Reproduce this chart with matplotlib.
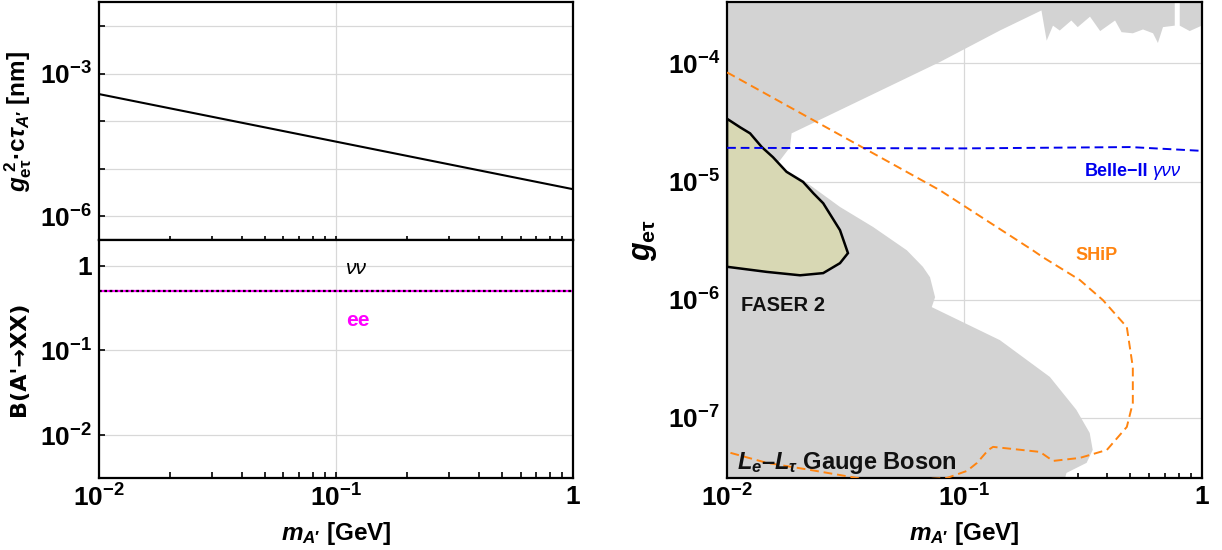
import matplotlib
matplotlib.use('Agg')
import matplotlib.pyplot as plt
import numpy as np

plt.rcParams['font.family'] = ['Liberation Sans', 'DejaVu Sans']
plt.rcParams['font.weight'] = 'bold'
plt.rcParams['axes.labelweight'] = 'bold'
plt.rcParams['mathtext.fontset'] = 'custom'
plt.rcParams['mathtext.rm'] = 'Liberation Sans:bold'
plt.rcParams['mathtext.it'] = 'Liberation Sans:italic:bold'
plt.rcParams['mathtext.bf'] = 'Liberation Sans:bold'
plt.rcParams['mathtext.default'] = 'regular'

# ---- data ----
# left top: lifetime
m_line = [0.01, 1.0]
ctau = [3.7e-4, 3.7e-6]
# left bottom: branching ratios
br_nunu = [0.5, 0.5]
br_ee = [0.5, 0.5]

# right: excluded region (gray), top part
gray_m = [0.01, 0.769, 0.769, 0.686, 0.653, 0.623, 0.565, 0.512, 0.459, 0.431, 0.373,
          0.338, 0.300, 0.282, 0.252, 0.236, 0.222, 0.211, 0.141, 0.0789, 0.0187,
          0.0184, 0.0167, 0.0161, 0.0209, 0.0299, 0.0412, 0.0572, 0.0668, 0.0716,
          0.0752, 0.0728, 0.141, 0.229, 0.296, 0.337, 0.347, 0.327, 0.269, 0.229, 0.01]
gray_g = [4e-4, 4e-4, 2.09e-4, 2.03e-4, 1.49e-4, 1.80e-4, 1.94e-4, 1.80e-4, 1.84e-4,
          2.31e-4, 1.88e-4, 2.49e-4, 2.03e-4, 2.31e-4, 1.90e-4, 2.09e-4, 1.56e-4,
          2.81e-4, 1.90e-4, 1.03e-4, 2.56e-5, 1.95e-5, 1.51e-5, 1.40e-5, 1.03e-5,
          6.1e-6, 4.13e-6, 2.62e-6, 1.90e-6, 1.55e-6, 1.05e-6, 8.66e-7, 4.55e-7,
          2.22e-7, 1.17e-7, 7.45e-8, 5.35e-8, 4.16e-8, 3.42e-8, 1e-8, 1e-8]
gray2_m = [0.807, 0.807, 0.889, 1.0, 1.0]
gray2_g = [4e-4, 2.09e-4, 1.88e-4, 2.09e-4, 4e-4]

# FASER 2 sensitivity
faser_m = [0.01, 0.01135, 0.0125, 0.0140, 0.0156, 0.0178, 0.0209, 0.0231, 0.0254,
           0.0299, 0.0323, 0.0299, 0.0254, 0.0203, 0.0147, 0.01]
faser_g = [3.4e-5, 2.88e-5, 2.56e-5, 1.96e-5, 1.61e-5, 1.21e-5, 9.93e-6, 7.96e-6,
           6.56e-6, 3.88e-6, 2.48e-6, 2.04e-6, 1.68e-6, 1.61e-6, 1.72e-6, 1.90e-6]

# SHiP
ship_m = [0.01, 0.0789, 0.194, 0.214, 0.306, 0.383, 0.483, 0.512, 0.512, 0.483, 0.398,
          0.306, 0.236, 0.208, 0.132, 0.126, 0.113, 0.1026, 0.0844, 0.044, 0.0223,
          0.0147, 0.01]
ship_g = [8.4e-5, 8.43e-6, 2.62e-6, 2.29e-6, 1.47e-6, 9.93e-7, 5.87e-7, 2.69e-7,
          1.34e-7, 8.38e-8, 5.35e-8, 4.58e-8, 4.32e-8, 5.15e-8, 5.68e-8, 5.35e-8,
          4.16e-8, 3.56e-8, 3.10e-8, 2.87e-8, 3.63e-8, 4.16e-8, 5.15e-8]

# Belle-II
belle_m = [0.01, 0.1, 0.5, 1.0]
belle_g = [1.93e-5, 1.91e-5, 1.96e-5, 1.82e-5]

fig = plt.figure(figsize=(12.22, 5.5), dpi=100)
ax1 = fig.add_axes([0.081, 0.5636, 0.388, 0.4324])
ax2 = fig.add_axes([0.081, 0.131, 0.388, 0.4326])
ax3 = fig.add_axes([0.595, 0.131, 0.3885, 0.865])

grid_c = '#d8d8d8'
for ax in (ax1, ax2, ax3):
    ax.set_xscale('log')
    ax.set_yscale('log')
    ax.set_xlim(0.01, 1)
    for s in ax.spines.values():
        s.set_linewidth(1.6)
    ax.tick_params(which='both', direction='in', labelsize=19, top=False, right=False,
                   width=1.2, pad=5)
    ax.set_axisbelow(True)

# top left
ax1.plot(m_line, ctau, color='black', lw=1.5)
ax1.set_ylim(10**-6.5, 10**-1.5)
dec = [1e-6, 1e-5, 1e-4, 1e-3, 1e-2]
ax1.set_yticks(dec)
ax1.set_yticklabels([r'$10^{-6}$', '', '', r'$10^{-3}$', ''])
ax1.yaxis.set_minor_locator(matplotlib.ticker.NullLocator())
ax1.set_xticks([0.1])
ax1.tick_params(axis='x', which='both', labelbottom=False, length=3)
ax1.tick_params(axis='y', length=4)
ax1.grid(True, which='major', color=grid_c, lw=0.9)
ax1.set_ylabel(r'$\mathit{g}_{e\tau}^{\ 2}$·c$\mathit{\tau}_{\mathit{A}\prime}$ [nm]',
               fontsize=17.5, labelpad=4)

# bottom left
ax2.plot(m_line, br_ee, color='magenta', lw=1.6)
ax2.plot(m_line, br_nunu, color='black', lw=1.6, ls=(0, (1.2, 1.2)))
ax2.set_ylim(10**-2.506, 2.0)
ax2.set_yticks([1e-2, 1e-1, 1])
ax2.set_yticklabels([r'$10^{-2}$', r'$10^{-1}$', '1'])
ax2.yaxis.set_minor_locator(matplotlib.ticker.NullLocator())
ax2.set_xticks([0.01, 0.1, 1])
ax2.set_xticklabels([r'$10^{-2}$', r'$10^{-1}$', '1'])
ax2.tick_params(which='both', length=4)
ax2.grid(True, which='major', color=grid_c, lw=0.9)
ax2.set_ylabel("B(A'→XX)", fontsize=16, labelpad=8, family=['DejaVu Sans'])
ax2.set_xlabel(r"$\mathit{m}_{\mathit{A}\prime}$ [GeV]", fontsize=17.5, labelpad=6)
ax2.text(0.110, 0.92, 'νν', fontsize=15, style='italic', fontweight='normal',
         color='black', ha='left', va='center')
ax2.text(0.110, 0.225, 'ee', fontsize=15, color='magenta', ha='left', va='center')

# right panel
ax3.set_ylim(3.1e-8, 3.3e-4)
ax3.fill(gray_m, gray_g, color='#d3d3d3', lw=0, zorder=1)
ax3.fill(gray2_m, gray2_g, color='#d3d3d3', lw=0, zorder=1)
ax3.fill(faser_m, faser_g, facecolor='#d8d8b4', edgecolor='black', lw=1.8, zorder=3)
ax3.plot(ship_m, ship_g, color='#ff8410', lw=1.4, ls=(0, (4.5, 2.5)), zorder=4)
ax3.plot(belle_m, belle_g, color='#0000ee', lw=1.4, ls=(0, (4.5, 2.5)), zorder=4)
ax3.set_yticks([1e-7, 1e-6, 1e-5, 1e-4])
ax3.set_yticklabels([r'$10^{-7}$', r'$10^{-6}$', r'$10^{-5}$', r'$10^{-4}$'])
ax3.yaxis.set_minor_locator(matplotlib.ticker.LogLocator(base=10, subs=np.arange(2, 10), numticks=20))
ax3.yaxis.set_minor_formatter(matplotlib.ticker.NullFormatter())
ax3.set_xticks([0.01, 0.1, 1])
ax3.set_xticklabels([r'$10^{-2}$', r'$10^{-1}$', '1'])
ax3.tick_params(which='major', length=6)
ax3.tick_params(which='minor', length=3.5)
ax3.grid(True, which='major', color=grid_c, lw=0.9, zorder=2)
ax3.set_ylabel(r'$\mathit{g}_{e\tau}$', fontsize=22, labelpad=6)
ax3.set_xlabel(r"$\mathit{m}_{\mathit{A}\prime}$ [GeV]", fontsize=17.5, labelpad=6)

ax3.text(0.593, 1.22e-5, 'Belle−II', fontsize=13, color='#0000ee', ha='right', va='center',
         zorder=5)
ax3.text(0.622, 1.22e-5, 'γνν', fontsize=13.5, color='#0000ee', ha='left', va='center',
         style='italic', fontweight='normal', zorder=5)
ax3.text(0.361, 2.38e-6, 'SHiP', fontsize=13, color='#ff8410', ha='center', va='center', zorder=5)
ax3.text(0.01146, 9.0e-7, 'FASER 2', fontsize=14.5, color='#111111', ha='left', va='center', zorder=5)
ax3.text(0.0110, 4.16e-8, r'$\mathit{L}_{\mathit{e}}$–$\mathit{L}_{\mathit{\tau}}$ Gauge Boson',
         fontsize=17, color='#111111', ha='left', va='center', zorder=5)

fig.savefig('out.png', dpi=100)
